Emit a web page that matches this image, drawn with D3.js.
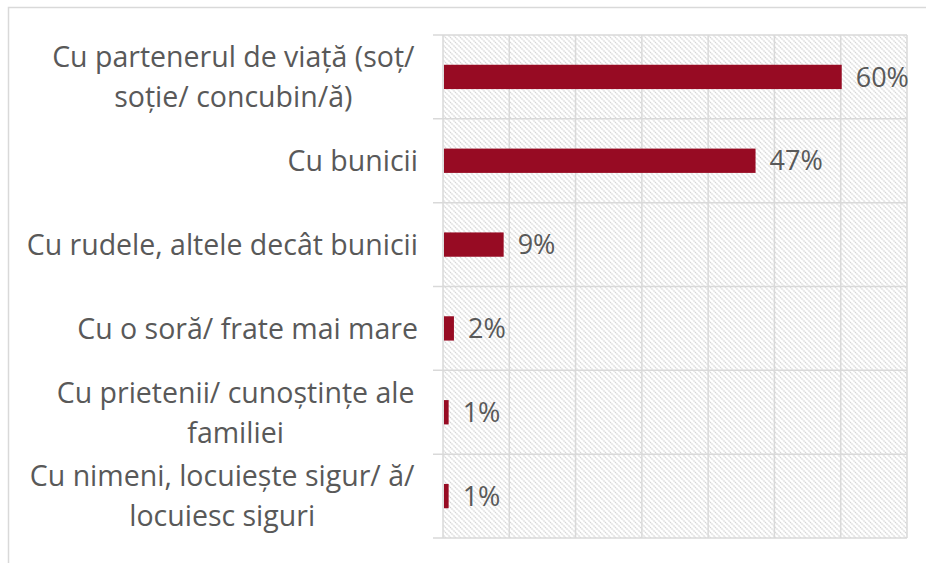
<!DOCTYPE html>
<html>
<head>
<meta charset="utf-8">
<script src="https://cdn.jsdelivr.net/npm/d3@7"></script>
<style>
  body { margin: 0; background: #fff; }
  svg { display: block; }
  text { font-family: "Open Sans", sans-serif; fill: #595959; }
</style>
</head>
<body>
<svg id="chart"></svg>
<script>
// categories, top to bottom (each entry = wrapped lines)
const categories = [
    ["Cu partenerul de viață (soț/", "soție/ concubin/ă)"],
    ["Cu bunicii"],
    ["Cu rudele, altele decât bunicii"],
    ["Cu o soră/ frate mai mare"],
    ["Cu prietenii/ cunoștințe ale", "familiei"],
    ["Cu nimeni, locuiește sigur/ ă/", "locuiesc siguri"]
];
const values = [60, 47, 9, 1.5, 0.7, 0.7];   // percent
const xTicks = [0, 10, 20, 30, 40, 50, 60, 70];

const W = 926, H = 563;
const margin = { top: 35, right: 19, bottom: 25, left: 443 };
const width = W - margin.left - margin.right;
const height = H - margin.top - margin.bottom;

const svg = d3.select("#chart").attr("width", W).attr("height", H);

// hatch pattern for plot background
const defs = svg.append("defs");
const pat = defs.append("pattern")
    .attr("id", "hatch")
    .attr("patternUnits", "userSpaceOnUse")
    .attr("width", 5).attr("height", 5);
pat.append("path")
    .attr("d", "M-1,-1 L6,6 M-1,4 L1,6 M4,-1 L6,1")
    .attr("stroke", "#d6d6d6")
    .attr("stroke-width", 1.3)
    .attr("stroke-dasharray", "1.5 0.6");

// outer frame (top + left)
svg.append("path")
    .attr("d", `M8.5,${H} L8.5,7.5 L${W},7.5`)
    .attr("fill", "none")
    .attr("stroke", "#d9d9d9")
    .attr("stroke-width", 1.5);

const g = svg.append("g").attr("transform", `translate(${margin.left},${margin.top})`);

const x = d3.scaleLinear().domain([0, 70]).range([0, width]);
const y = d3.scaleBand().domain(d3.range(categories.length)).range([0, height]).paddingInner(0.71).paddingOuter(0.355);
const yb = d3.scaleBand().domain(d3.range(categories.length)).range([0, height]);

g.append("rect")
    .attr("width", width).attr("height", height)
    .attr("fill", "url(#hatch)");

// vertical gridlines
g.append("g")
    .selectAll("line")
    .data(xTicks)
    .join("line")
    .attr("x1", d => x(d)).attr("x2", d => x(d))
    .attr("y1", 0).attr("y2", height)
    .attr("stroke", "#d9d9d9")
    .attr("stroke-width", 1.5);

// category boundary lines with tick marks
const bounds = d3.range(categories.length + 1).map(i => i * yb.step());
g.append("g")
    .selectAll("line")
    .data(bounds)
    .join("line")
    .attr("x1", -10).attr("x2", width)
    .attr("y1", d => d).attr("y2", d => d)
    .attr("stroke", "#d9d9d9")
    .attr("stroke-width", 1.5);

// bars
g.append("g")
    .selectAll("rect")
    .data(values)
    .join("rect")
    .attr("x", x(0) + 1)
    .attr("y", (d, i) => y(i))
    .attr("width", d => x(d) - x(0))
    .attr("height", y.bandwidth())
    .attr("fill", "#970b23");

// value labels
g.append("g")
    .selectAll("text")
    .data(values)
    .join("text")
    .attr("x", d => x(d) + 15)
    .attr("y", (d, i) => y(i) + y.bandwidth() / 2)
    .attr("dy", "0.36em")
    .style("font-size", "27px")
    .text(d => Math.round(d) + "%");

// category labels (lines centred in a right-aligned block)
const labelRight = -25;
const lineH = 40;
const spaceW = 7;   // wrapped lines keep their trailing space
const lab = g.append("g")
    .selectAll("text")
    .data(categories)
    .join("text")
    .style("font-size", "28.5px")
    .attr("text-anchor", "middle");

lab.each(function (lines, i) {
    const t = d3.select(this);
    const cy = yb(i) + yb.step() / 2;
    const y0 = cy - (lines.length - 1) * lineH / 2;
    lines.forEach((l, k) => {
        t.append("tspan").attr("y", y0 + k * lineH).attr("dy", "0.36em").text(l);
    });
    let maxW = 0;
    t.selectAll("tspan").each(function (d, k) {
        const extra = k < lines.length - 1 ? spaceW : 0;
        maxW = Math.max(maxW, this.getComputedTextLength() + extra);
    });
    t.selectAll("tspan").attr("x", labelRight - maxW / 2);
});
</script>
</body>
</html>
